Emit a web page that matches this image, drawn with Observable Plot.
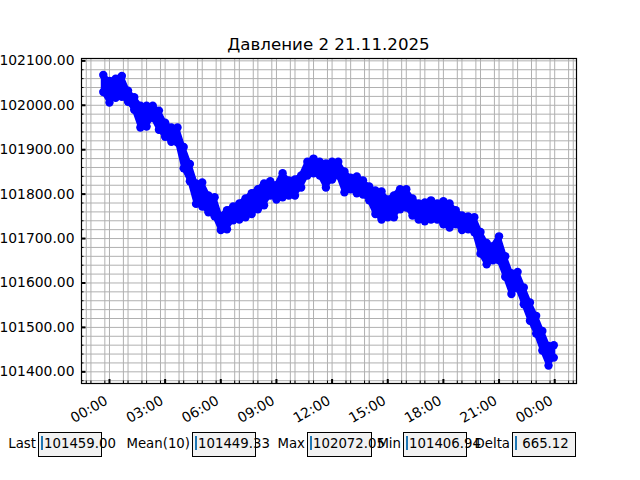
<!DOCTYPE html>
<html>
<head>
<meta charset="utf-8">
<script src="https://cdn.jsdelivr.net/npm/d3@7"></script>
<script src="https://cdn.jsdelivr.net/npm/@observablehq/plot@0.6"></script>
<style>
  body { margin: 0; background: #fff; font-family: "DejaVu Sans", sans-serif; }
  #wrap { position: relative; width: 640px; height: 480px; overflow: hidden; background: #fff; }
  #title { position: absolute; left: 81px; width: 495px; top: 34px; line-height: 22px; text-align: center; font-size: 16.67px; color: #000; }
  #chart { position: absolute; left: 0; top: 0; }
  .lbl { position: absolute; font-size: 13.3px; line-height: 25px; color: #000; white-space: pre; text-align: right; }
  .box { position: absolute; height: 23px; border: 1px solid #000; background: #f2f2f2; }
  .val { position: absolute; font-size: 13.3px; line-height: 25px; color: #000; white-space: pre; }
  .cur { position: absolute; width: 2px; height: 14px; background: #1f77b4; }
</style>
</head>
<body>
<div id="wrap">
  <div id="chart"></div>
  <div id="title"></div>
</div>
<script>
// ---- data (pressure band: upper / lower readings) ----
const titleText = "Давление 2 21.11.2025";
const times = [
  "2025-11-20T23:40", "2025-11-21T00:00", "2025-11-21T00:20", "2025-11-21T00:40",
  "2025-11-21T01:00", "2025-11-21T01:20", "2025-11-21T01:40", "2025-11-21T02:00",
  "2025-11-21T02:20", "2025-11-21T02:40", "2025-11-21T03:00", "2025-11-21T03:20",
  "2025-11-21T03:40", "2025-11-21T04:00", "2025-11-21T04:20", "2025-11-21T04:40",
  "2025-11-21T05:00", "2025-11-21T05:20", "2025-11-21T05:40", "2025-11-21T06:00",
  "2025-11-21T06:20", "2025-11-21T06:40", "2025-11-21T07:00", "2025-11-21T07:20",
  "2025-11-21T07:40", "2025-11-21T08:00", "2025-11-21T08:20", "2025-11-21T08:40",
  "2025-11-21T09:00", "2025-11-21T09:20", "2025-11-21T09:40", "2025-11-21T10:00",
  "2025-11-21T10:20", "2025-11-21T10:40", "2025-11-21T11:00", "2025-11-21T11:20",
  "2025-11-21T11:40", "2025-11-21T12:00", "2025-11-21T12:20", "2025-11-21T12:40",
  "2025-11-21T13:00", "2025-11-21T13:20", "2025-11-21T13:40", "2025-11-21T14:00",
  "2025-11-21T14:20", "2025-11-21T14:40", "2025-11-21T15:00", "2025-11-21T15:20",
  "2025-11-21T15:40", "2025-11-21T16:00", "2025-11-21T16:20", "2025-11-21T16:40",
  "2025-11-21T17:00", "2025-11-21T17:20", "2025-11-21T17:40", "2025-11-21T18:00",
  "2025-11-21T18:20", "2025-11-21T18:40", "2025-11-21T19:00", "2025-11-21T19:20",
  "2025-11-21T19:40", "2025-11-21T20:00", "2025-11-21T20:20", "2025-11-21T20:40",
  "2025-11-21T21:00", "2025-11-21T21:20", "2025-11-21T21:40", "2025-11-21T22:00",
  "2025-11-21T22:20", "2025-11-21T22:40", "2025-11-21T23:00", "2025-11-21T23:20",
  "2025-11-21T23:40", "2025-11-21T23:57"
];
const highs = [
  102068, 102055, 102060, 102066, 102033, 102018, 101999, 101999,
  101999, 101988, 101961, 101950, 101950, 101906, 101868, 101824,
  101826, 101797, 101793, 101750, 101764, 101772, 101779, 101790,
  101802, 101811, 101824, 101829, 101820, 101847, 101831, 101833,
  101842, 101873, 101880, 101873, 101869, 101873, 101873, 101851,
  101837, 101840, 101831, 101817, 101808, 101806, 101788, 101797,
  101811, 101811, 101790, 101779, 101781, 101786, 101779, 101784,
  101779, 101764, 101752, 101750, 101748, 101715, 101690, 101683,
  101705, 101660, 101622, 101625, 101590, 101556, 101526, 101492,
  101458, 101460
];
const lows = [
  102030, 102006, 102017, 102019, 102008, 101990, 101950, 101952,
  101972, 101945, 101929, 101918, 101916, 101858, 101829, 101778,
  101772, 101759, 101750, 101719, 101721, 101741, 101743, 101748,
  101755, 101766, 101775, 101797, 101788, 101793, 101797, 101797,
  101815, 101842, 101847, 101842, 101815, 101833, 101842, 101804,
  101811, 101802, 101799, 101786, 101755, 101743, 101748, 101748,
  101766, 101770, 101752, 101743, 101739, 101743, 101743, 101732,
  101725, 101732, 101719, 101721, 101714, 101666, 101642, 101651,
  101651, 101614, 101575, 101588, 101552, 101515, 101486, 101448,
  101414, 101432
];
const yTickValues = [101400, 101500, 101600, 101700, 101800, 101900, 102000, 102100];
const xTickTimes = ["2025-11-21T00:00", "2025-11-21T03:00", "2025-11-21T06:00", "2025-11-21T09:00",
                    "2025-11-21T12:00", "2025-11-21T15:00", "2025-11-21T18:00", "2025-11-21T21:00",
                    "2025-11-22T00:00"];
const statLabels = ["Last", "Mean(10)", "Max", "Min", "Delta"];
const statValues = ["101459.00", "101449.33", "102072.05", "101406.94", " 665.12"];

// ---- build ----
const parse = s => new Date(s + ":00Z");
const rows = times.map((t, i) => ({t: parse(t), hi: highs[i], lo: lows[i]}));
const pts = rows.flatMap(r => [{t: r.t, v: r.hi}, {t: r.t, v: r.lo}]);
const xMajor = xTickTimes.map(parse);
const xMinor = d3.utcMinute.every(45).range(parse("2025-11-20T22:30"), parse("2025-11-22T01:15"));
const yMinor = d3.range(101380, 102101, 20);
const fmtY = d3.format(".2f");
const fmtX = d3.utcFormat("%H:%M");
const gridStyle = {stroke: "#b0b0b0", strokeOpacity: 1, strokeWidth: 1};

const chart = Plot.plot({
  width: 640,
  height: 430,
  marginLeft: 81,
  marginRight: 64,
  marginTop: 58,
  marginBottom: 47,
  x: {type: "utc", domain: [new Date("2025-11-20T22:29:30Z"), new Date("2025-11-22T01:10:30Z")], axis: null},
  y: {domain: [101373.7, 102105.3], axis: null},
  style: {fontFamily: "DejaVu Sans", fontSize: "13.9px", color: "#000", background: "transparent", overflow: "visible"},
  marks: [
    Plot.gridY(yMinor, gridStyle),
    Plot.gridX(xMinor, gridStyle),
    Plot.areaY(rows, {x: "t", y1: "lo", y2: "hi", fill: "#0000ff", stroke: "#0000ff", strokeWidth: 4, strokeLinejoin: "round"}),
    Plot.dot(pts, {x: "t", y: "v", r: 4.2, fill: "#0000ff", stroke: null}),
    Plot.frame({stroke: "#000", strokeWidth: 1.2}),
    Plot.axisY(yMinor, {tickSize: -2.5, strokeWidth: 1, tickFormat: () => "", label: null}),
    Plot.axisY(yTickValues, {tickSize: -4.5, strokeWidth: 2, tickFormat: () => "", label: null}),
    Plot.axisX(xMinor, {tickSize: -2.5, strokeWidth: 1, tickFormat: () => "", label: null}),
    Plot.axisX(xMajor, {tickSize: -4, strokeWidth: 2, tickFormat: () => "", label: null}),
    Plot.text(yTickValues, {y: d => d, frameAnchor: "left", textAnchor: "end", dx: -7, text: d => fmtY(d), fill: "#000"}),
    Plot.text(xMajor, {x: d => d, frameAnchor: "bottom", rotate: -30, textAnchor: "end", lineAnchor: "middle", dx: -3, dy: 16, text: d => fmtX(d), fill: "#000"})
  ]
});
document.getElementById("chart").appendChild(chart);
document.getElementById("title").textContent = titleText;

// stat boxes (text boxes under the chart)
const wrap = document.getElementById("wrap");
const boxLeft = [38, 192, 307, 403, 512];
const boxWidth = [64, 64, 65, 64, 64];
const boxTop = 432;
statLabels.forEach((lab, i) => {
  const b = document.createElement("div");
  b.className = "box";
  b.style.left = boxLeft[i] + "px";
  b.style.top = boxTop + "px";
  b.style.width = (boxWidth[i] - 2) + "px";
  wrap.appendChild(b);
  const c = document.createElement("div");
  c.className = "cur";
  c.style.left = (boxLeft[i] + 3) + "px";
  c.style.top = (boxTop + 4) + "px";
  wrap.appendChild(c);
  const v = document.createElement("div");
  v.className = "val";
  v.style.left = (boxLeft[i] + 6) + "px";
  v.style.top = (boxTop - 1) + "px";
  v.textContent = statValues[i];
  wrap.appendChild(v);
  const l = document.createElement("div");
  l.className = "lbl";
  l.style.right = (640 - boxLeft[i] + 2) + "px";
  l.style.top = (boxTop - 1) + "px";
  l.textContent = lab;
  wrap.appendChild(l);
});
</script>
</body>
</html>
